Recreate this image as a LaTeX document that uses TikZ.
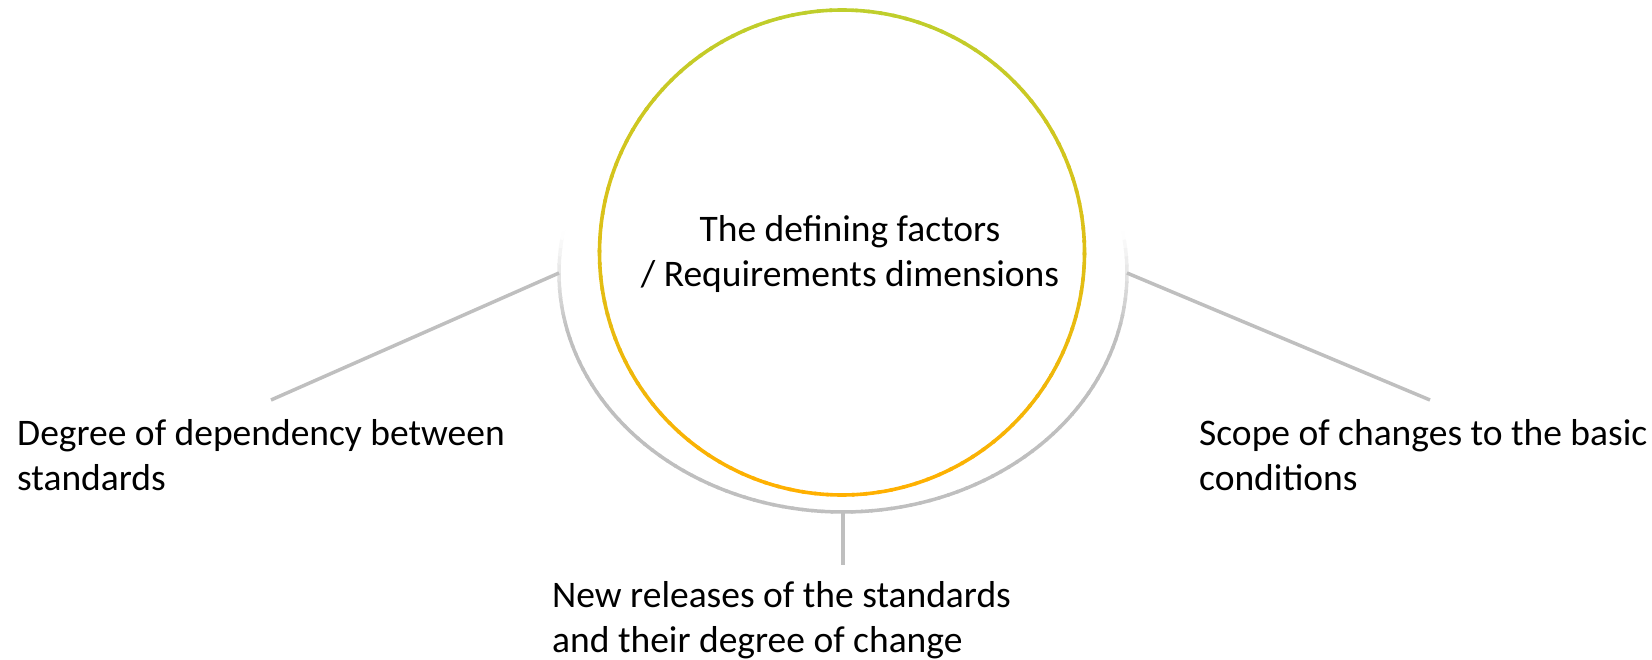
\documentclass[tikz,border=0pt]{standalone}
\usepackage{fontspec}
\setmainfont{Carlito}
\usetikzlibrary{calc}
\definecolor{ringtop}{RGB}{190,206,44}
\definecolor{ringbot}{RGB}{255,176,0}
\definecolor{spoke}{RGB}{191,191,191}

\begin{document}
\begin{tikzpicture}[x=1pt,y=-1pt,
  txt/.style={font=\fontsize{37.5}{45}\selectfont,inner sep=0pt,align=left,anchor=base west},
  spokeline/.style={line width=3.5pt,draw=spoke}
]
\useasboundingbox (0,0) rectangle (1652,660);
\coordinate (c) at (842,252.5);
\coordinate (o) at (843,273);
% outer arc, fading out at the top
\foreach \t in {-12,-10,...,190}{
  \pgfmathtruncatemacro\p{max(0,min(100,(40+239*sin(\t+1))/0.97))}
  \draw[line width=3.5pt,spoke!\p!white] ($(o)+(\t:284 and 239)$) arc[start angle=\t,end angle=\t+2.4,x radius=284,y radius=239];
}
% inner ring, green-yellow to orange
\foreach \t in {0,3,...,357}{
  \pgfmathtruncatemacro\p{50-50*sin(\t+1.5)}
  \draw[line width=3.6pt,ringtop!\p!ringbot] ($(c)+(\t:242.5)$) arc[start angle=\t,end angle=\t+3.6,radius=242.5];
}
\coordinate (jl) at ($(o)+(180:284 and 239)$);
\coordinate (jr) at ($(o)+(0:284 and 239)$);
\coordinate (jb) at ($(o)+(90:284 and 239)$);
\coordinate (el) at (271,400);
\coordinate (er) at (1430,400);
\coordinate (eb) at (843,565);
% base anchor sits on the last line
\node[txt,align=center,anchor=base] (hub) at (850,287) {The defining factors\\/ Requirements dimensions};
\node[txt] (dep) at (17,490) {Degree of dependency between\\standards};
\node[txt] (scope) at (1199,490) {Scope of changes to the basic\\conditions};
\node[txt] (rel) at (552,652) {New releases of the standards\\and their degree of change};
\draw[spokeline] (jl) -- (el);
\draw[spokeline] (jr) -- (er);
\draw[spokeline] (jb) -- (eb);
\end{tikzpicture}
\end{document}
